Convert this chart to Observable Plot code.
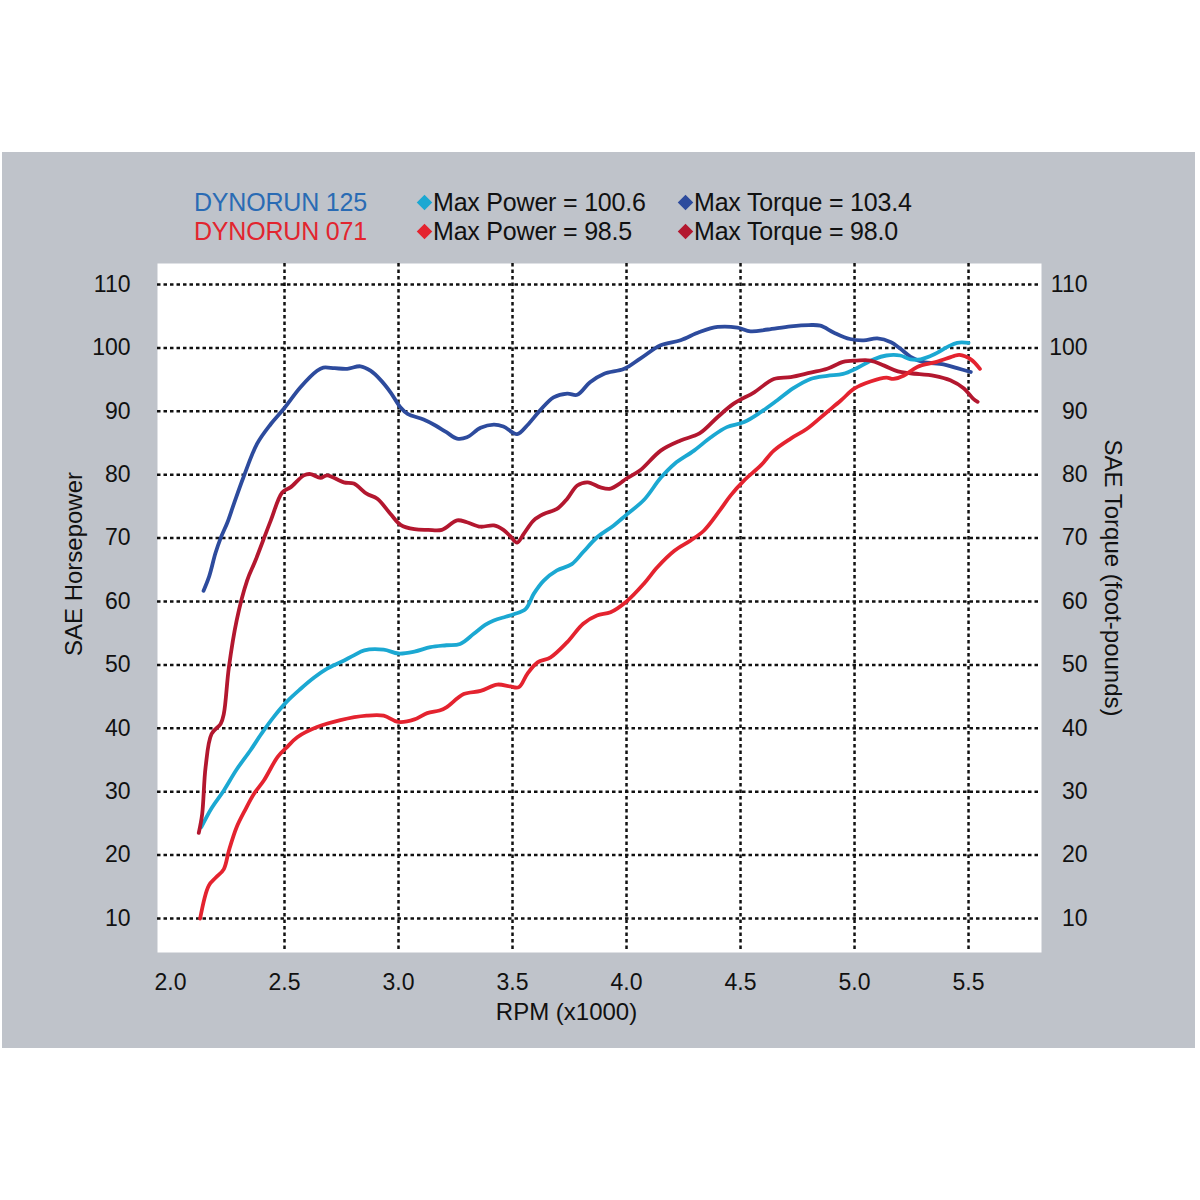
<!DOCTYPE html>
<html>
<head>
<meta charset="utf-8">
<script src="https://cdn.jsdelivr.net/npm/d3@7"></script>
<script src="https://cdn.jsdelivr.net/npm/@observablehq/plot@0.6"></script>
<style>
  body { margin: 0; background: #ffffff; }
  #page { position: relative; width: 1200px; height: 1200px; background: #ffffff; overflow: hidden;
          font-family: "Liberation Sans", Arial, Helvetica, sans-serif; }
  #panel { position: absolute; left: 2px; top: 152px; width: 1193px; height: 896px; background: #bfc3ca; }
  #chart { position: absolute; left: 0; top: 152px; }
  .leg { position: absolute; font-size: 25px; line-height: 1; white-space: nowrap; color: #111; letter-spacing: -0.2px; }
  .dia { position: absolute; width: 11px; height: 11px; transform: rotate(45deg); }
</style>
</head>
<body>
<div id="page">
  <div id="panel"></div>
  <div id="chart"></div>
  <div id="legend"></div>
</div>
<script>
// ---- Data ----
const xTicks = [2.0, 2.5, 3.0, 3.5, 4.0, 4.5, 5.0, 5.5];
const xGridTicks = [2.5, 3.0, 3.5, 4.0, 4.5, 5.0, 5.5];
const yTicks = [10, 20, 30, 40, 50, 60, 70, 80, 90, 100, 110];

const runNames = ["DYNORUN 125", "DYNORUN 071"];
const legendPower = ["Max Power = 100.6", "Max Power = 98.5"];
const legendTorque = ["Max Torque = 103.4", "Max Torque = 98.0"];

// DYNORUN 125 torque (dark blue)
const rpmTorque125 = [2.145, 2.17, 2.197, 2.22, 2.25, 2.278, 2.32, 2.38, 2.44, 2.497, 2.57, 2.643, 2.67, 2.72, 2.775, 2.833, 2.877, 2.92, 2.965, 3.009, 3.04, 3.11, 3.16, 3.21, 3.257, 3.30, 3.36, 3.418, 3.46, 3.52, 3.565, 3.62, 3.68, 3.74, 3.784, 3.84, 3.90, 3.99, 4.06, 4.15, 4.237, 4.32, 4.40, 4.486, 4.544, 4.62, 4.72, 4.80, 4.85, 4.91, 4.98, 5.04, 5.10, 5.16, 5.20, 5.246, 5.30, 5.39, 5.45, 5.51];
const torque125 = [61.7, 64.0, 67.6, 70.0, 72.5, 75.4, 79.6, 84.9, 88.0, 90.4, 93.8, 96.4, 96.9, 96.8, 96.7, 97.1, 96.4, 95.0, 93.0, 90.6, 89.6, 88.7, 87.8, 86.7, 85.7, 85.9, 87.4, 87.9, 87.6, 86.4, 87.8, 90.1, 92.2, 92.8, 92.6, 94.6, 95.9, 96.7, 98.3, 100.4, 101.2, 102.5, 103.3, 103.2, 102.6, 102.9, 103.4, 103.6, 103.5, 102.4, 101.4, 101.2, 101.5, 100.9, 99.9, 98.6, 97.8, 97.4, 96.8, 96.2];

// DYNORUN 125 power (cyan)
const rpmPower125 = [2.135, 2.18, 2.234, 2.29, 2.35, 2.40, 2.453, 2.51, 2.57, 2.63, 2.687, 2.75, 2.804, 2.85, 2.935, 3.0, 3.07, 3.14, 3.21, 3.27, 3.33, 3.38, 3.418, 3.47, 3.506, 3.557, 3.593, 3.637, 3.695, 3.76, 3.81, 3.87, 3.944, 4.0, 4.076, 4.15, 4.21, 4.296, 4.37, 4.44, 4.516, 4.59, 4.66, 4.73, 4.807, 4.88, 4.95, 5.01, 5.085, 5.14, 5.20, 5.246, 5.29, 5.35, 5.41, 5.45, 5.50];
const power125 = [24.4, 27.4, 30.2, 33.5, 36.5, 39.2, 41.8, 44.2, 46.2, 48.0, 49.4, 50.5, 51.5, 52.3, 52.4, 51.8, 52.1, 52.8, 53.1, 53.3, 54.9, 56.3, 57.0, 57.6, 58.0, 58.8, 61.2, 63.3, 64.9, 65.9, 67.8, 70.1, 72.0, 73.7, 76.0, 79.5, 81.7, 83.8, 85.9, 87.5, 88.3, 89.9, 91.7, 93.6, 95.1, 95.6, 95.9, 96.8, 98.2, 98.8, 98.8, 98.2, 98.2, 99.0, 100.2, 100.8, 100.8];

// DYNORUN 071 torque (dark red)
const rpmTorque071 = [2.124, 2.139, 2.154, 2.18, 2.22, 2.234, 2.256, 2.29, 2.336, 2.373, 2.44, 2.49, 2.526, 2.585, 2.614, 2.658, 2.687, 2.76, 2.804, 2.86, 2.907, 2.965, 3.009, 3.07, 3.13, 3.19, 3.257, 3.30, 3.36, 3.418, 3.46, 3.49, 3.52, 3.55, 3.593, 3.637, 3.695, 3.74, 3.784, 3.83, 3.886, 3.93, 3.97, 4.0, 4.06, 4.15, 4.237, 4.32, 4.40, 4.47, 4.56, 4.646, 4.72, 4.807, 4.88, 4.95, 5.01, 5.07, 5.13, 5.19, 5.246, 5.35, 5.42, 5.48, 5.52, 5.54];
const torque071 = [23.5, 26.5, 33.9, 39.1, 40.7, 42.3, 49.6, 57.0, 63.3, 66.5, 72.8, 77.2, 78.0, 79.9, 80.1, 79.5, 79.9, 78.8, 78.6, 77.0, 76.2, 73.8, 72.1, 71.4, 71.3, 71.3, 72.8, 72.5, 71.8, 72.0, 71.3, 70.3, 69.3, 70.7, 72.8, 73.8, 74.6, 76.2, 78.3, 78.8, 78.0, 77.8, 78.6, 79.4, 80.7, 83.8, 85.4, 86.5, 89.1, 91.2, 93.0, 95.1, 95.4, 96.1, 96.7, 97.8, 98.0, 98.0, 97.2, 96.3, 96.0, 95.6, 94.9, 93.6, 92.0, 91.5];

// DYNORUN 071 power (red)
const rpmPower071 = [2.13, 2.168, 2.20, 2.234, 2.256, 2.29, 2.33, 2.365, 2.41, 2.47, 2.51, 2.556, 2.643, 2.745, 2.86, 2.935, 3.0, 3.07, 3.126, 3.18, 3.21, 3.286, 3.36, 3.433, 3.49, 3.528, 3.565, 3.61, 3.667, 3.74, 3.81, 3.87, 3.93, 4.0, 4.076, 4.135, 4.21, 4.28, 4.34, 4.41, 4.456, 4.516, 4.59, 4.646, 4.72, 4.79, 4.88, 4.94, 5.0, 5.07, 5.14, 5.17, 5.215, 5.275, 5.36, 5.435, 5.46, 5.51, 5.55];
const power071 = [10.0, 15.2, 16.5, 17.8, 20.7, 24.4, 27.3, 29.6, 31.8, 35.5, 37.0, 38.6, 40.2, 41.3, 42.0, 42.0, 41.0, 41.4, 42.4, 42.8, 43.3, 45.4, 45.9, 46.9, 46.6, 46.5, 48.6, 50.4, 51.2, 53.6, 56.5, 57.8, 58.3, 60.0, 62.8, 65.4, 68.0, 69.6, 71.2, 74.4, 76.7, 79.1, 81.5, 83.8, 85.7, 87.2, 89.9, 91.7, 93.6, 94.7, 95.3, 95.1, 95.6, 97.0, 97.8, 98.7, 98.9, 98.2, 96.7];

// ---- Build table ----
const seriesKeys = ["torque125", "power125", "torque071", "power071"];
const seriesColors = ["#2d4b9d", "#1ba8d2", "#b3172f", "#e4232f"];
const seriesDefs = [
  [seriesKeys[0], rpmTorque125, torque125],
  [seriesKeys[1], rpmPower125, power125],
  [seriesKeys[2], rpmTorque071, torque071],
  [seriesKeys[3], rpmPower071, power071]
];
const rows = seriesDefs.flatMap(([key, rs, vs]) => rs.map((r, i) => ({rpm: r, value: vs[i], series: key})));

const gridStyle = {stroke: "#111", strokeOpacity: 1, strokeWidth: 2.5, strokeDasharray: "3.5,3"};

const chart = Plot.plot({
  width: 1200,
  height: 896,
  marginTop: 111,
  marginBottom: 96,
  marginLeft: 157,
  marginRight: 159,
  style: {background: "transparent", fontFamily: "'Liberation Sans', Arial, sans-serif", fontSize: "23px", color: "#111", overflow: "visible"},
  x: {domain: [1.943, 5.82]},
  y: {domain: [4.64, 113.31]},
  color: {domain: seriesKeys, range: seriesColors},
  marks: [
    Plot.frame({fill: "white", stroke: "none"}),
    Plot.gridX({ticks: xGridTicks, ...gridStyle}),
    Plot.gridY({ticks: yTicks, ...gridStyle}),
    Plot.axisX({ticks: xTicks, tickSize: 0, tickPadding: 21, tickFormat: d => d.toFixed(1), label: null}),
    Plot.axisY({ticks: yTicks, anchor: "left", tickSize: 0, tickPadding: 27, label: null}),
    Plot.axisY({ticks: yTicks, anchor: "right", tickSize: 0, tickPadding: 46, textAnchor: "end", label: null}),
    Plot.line(rows, {x: "rpm", y: "value", z: "series", stroke: "series", strokeWidth: 3.8, curve: "catmull-rom", strokeLinejoin: "round", strokeLinecap: "round"}),
    Plot.text(["RPM (x1000)"], {text: d => d, frameAnchor: "bottom", dx: -33, dy: 60, lineAnchor: "middle", fontSize: 24, fill: "#111"}),
    Plot.text(["SAE Horsepower"], {text: d => d, frameAnchor: "left", rotate: -90, dx: -83, dy: -44, lineAnchor: "middle", textAnchor: "middle", fontSize: 24, fill: "#111"}),
    Plot.text(["SAE Torque (foot-pounds)"], {text: d => d, frameAnchor: "right", rotate: 90, dx: 71, dy: -30, lineAnchor: "middle", textAnchor: "middle", fontSize: 24, fill: "#111"})
  ]
});
document.getElementById("chart").appendChild(chart);

// ---- Legend (HTML, above the plot) ----
const legend = document.getElementById("legend");
const rowTops = [190, 219];
const nameColors = ["#2a6bb4", "#e2252f"];
const powerDia = [seriesColors[1], seriesColors[3]];
const torqueDia = [seriesColors[0], seriesColors[2]];
function addText(txt, left, top, color) {
  const d = document.createElement("div");
  d.className = "leg";
  d.style.left = left + "px";
  d.style.top = top + "px";
  d.style.color = color;
  d.textContent = txt;
  legend.appendChild(d);
}
function addDia(cx, cy, color) {
  const d = document.createElement("div");
  d.className = "dia";
  d.style.left = (cx - 5.5) + "px";
  d.style.top = (cy - 5.5) + "px";
  d.style.background = color;
  legend.appendChild(d);
}
for (let i = 0; i < 2; i++) {
  const top = rowTops[i];
  addText(runNames[i], 194, top, nameColors[i]);
  addDia(424, top + 12, powerDia[i]);
  addText(legendPower[i], 433, top, "#111");
  addDia(685, top + 12, torqueDia[i]);
  addText(legendTorque[i], 694, top, "#111");
}
</script>
</body>
</html>
